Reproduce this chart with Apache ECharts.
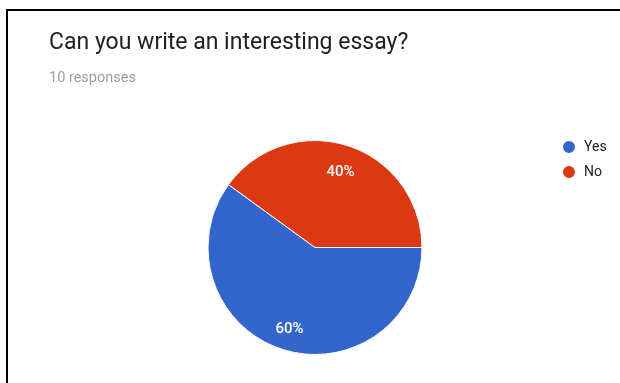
<!DOCTYPE html>
<html><head><meta charset="utf-8">
<script src="https://cdn.jsdelivr.net/npm/echarts@6/dist/echarts.min.js"></script>
<style>html,body{margin:0;padding:0;background:#fff}#c{width:620px;height:383px}</style>
</head><body><div id="c"></div>
<script>
const categories = ["Yes", "No"];
const values = [6, 4];
const colors = ["#3366cc", "#dc3912"];
const titleText = "Can you write an interesting essay?";
const subText = "10 responses";

const chart = echarts.init(document.getElementById('c'), null, {renderer: 'canvas'});
const data = categories.map((c, i) => ({name: c, value: values[i], itemStyle: {color: colors[i]}}));
chart.setOption({
  animation: false,
  backgroundColor: '#fff',
  title: {
    text: titleText, subtext: subText, left: 44, top: 27, itemGap: 16,
    textStyle: {fontFamily: 'Roboto', fontSize: 23, fontWeight: 'normal', color: '#212121'},
    subtextStyle: {fontFamily: 'Roboto', fontSize: 14.5, color: '#9e9e9e'}
  },
  legend: {
    orient: 'vertical', left: 556, top: 134, icon: 'circle', itemWidth: 14, itemHeight: 14, itemGap: 9,
    data: categories,
    textStyle: {fontFamily: 'Roboto', fontSize: 14, color: '#222', padding: [0, 0, 0, 3]}
  },
  graphic: [
    {type: 'line', shape: {x1: 6, y1: 10, x2: 620, y2: 10}, style: {stroke: '#000', lineWidth: 2}},
    {type: 'line', shape: {x1: 7, y1: 9, x2: 7, y2: 383}, style: {stroke: '#000', lineWidth: 2}}
  ],
  series: [
    {
      type: 'pie', center: [315, 247.5], radius: [0, 107], startAngle: 0, clockwise: true,
      data: data, label: {show: false}, labelLine: {show: false},
      itemStyle: {borderColor: '#fff', borderWidth: 1}, emphasis: {disabled: true}
    },
    {
      type: 'pie', center: [315, 247.5], radius: [52, 107], startAngle: 0, clockwise: true, silent: true,
      legendHoverLink: false,
      data: categories.map((c, i) => ({name: c + ' ', value: values[i]})),
      itemStyle: {color: 'rgba(0,0,0,0)'},
      label: {show: true, position: 'inside', formatter: '{d}%', color: '#fff', fontFamily: 'Roboto', fontSize: 15, fontWeight: 500, offset: [0, 3]},
      labelLine: {show: false}, emphasis: {disabled: true}
    }
  ]
});
</script></body></html>
